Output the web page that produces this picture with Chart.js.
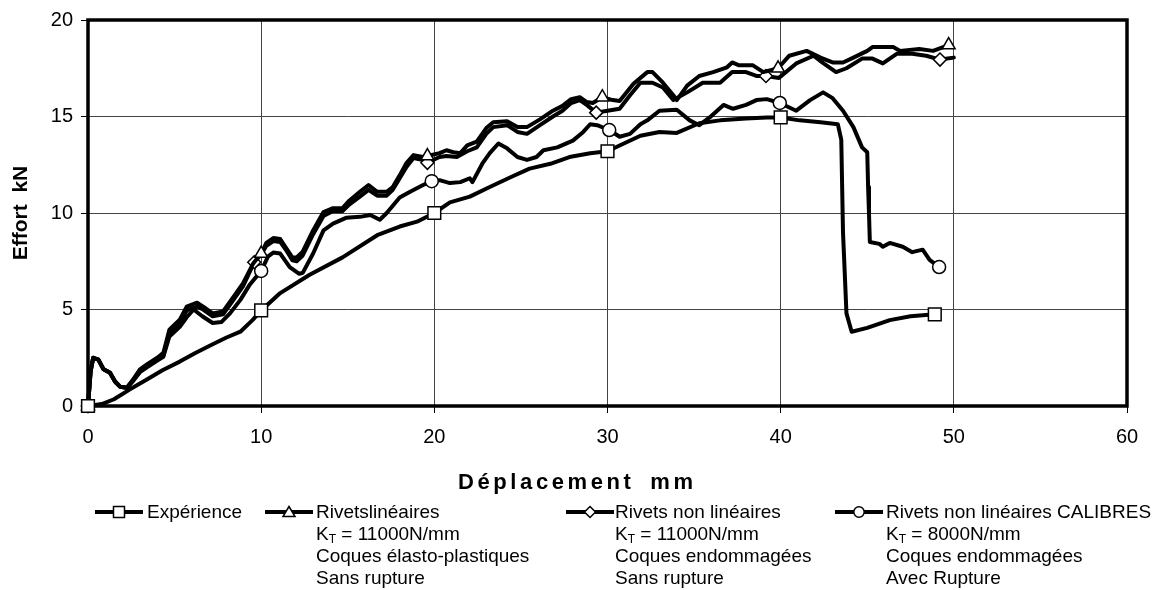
<!DOCTYPE html>
<html lang="fr">
<head>
<meta charset="UTF-8">
<title>Effort - Déplacement</title>
<script src="https://cdn.jsdelivr.net/npm/chart.js"></script>
<style>
  body { margin: 0; background: #fff; font-family: Arial, "Liberation Sans", sans-serif; color: #000; }
  #wrap { position: relative; width: 1160px; height: 590px; }
  #chart { position: absolute; left: 0; top: 0; }
  .xtitle { position: absolute; left: 458px; top: 469px; font-weight: bold; font-size: 22px; letter-spacing: 3.6px; word-spacing: 6px; white-space: nowrap; }
  .sym { position: absolute; top: 505px; }
  .txt { position: absolute; top: 501px; font-size: 19px; line-height: 22px; white-space: nowrap; }
  .txt sub { font-size: 12px; vertical-align: -3px; line-height: 0; }
</style>
</head>
<body>
<div id="wrap">
  <canvas id="chart" width="1160" height="590"></canvas>
  <div class="xtitle">Déplacement mm</div>

  <svg class="sym" style="left:95px" width="48" height="14">
    <line x1="0" y1="7" x2="48" y2="7" stroke="#000" stroke-width="4"/>
    <rect x="18.5" y="1.5" width="11" height="11" fill="#fff" stroke="#000" stroke-width="1.5"/>
  </svg>
  <div class="txt" style="left:147px">Expérience</div>

  <svg class="sym" style="left:265px" width="48" height="14">
    <line x1="0" y1="7" x2="48" y2="7" stroke="#000" stroke-width="4"/>
    <polygon points="24,1.5 30,11.5 18,11.5" fill="#fff" stroke="#000" stroke-width="1.5"/>
  </svg>
  <div class="txt" style="left:316px">Rivetslinéaires<br>K<sub>T</sub> = 11000N/mm<br>Coques élasto-plastiques<br>Sans rupture</div>

  <svg class="sym" style="left:566px" width="48" height="14">
    <line x1="0" y1="7" x2="48" y2="7" stroke="#000" stroke-width="4"/>
    <polygon points="24,1.5 29.5,7 24,12.5 18.5,7" fill="#fff" stroke="#000" stroke-width="1.5"/>
  </svg>
  <div class="txt" style="left:615px">Rivets non linéaires<br>K<sub>T</sub> = 11000N/mm<br>Coques endommagées<br>Sans rupture</div>

  <svg class="sym" style="left:835px" width="48" height="14">
    <line x1="0" y1="7" x2="48" y2="7" stroke="#000" stroke-width="4"/>
    <circle cx="24" cy="7" r="5.2" fill="#fff" stroke="#000" stroke-width="1.5"/>
  </svg>
  <div class="txt" style="left:886px">Rivets non linéaires CALIBRES<br>K<sub>T</sub> = 8000N/mm<br>Coques endommagées<br>Avec Rupture</div>
</div>

<script>
// Expérience (carrés)
const expX = [0, 0.8, 1.5, 2.4, 3.4, 4.3, 5.3, 6.2, 7.2, 8.0, 8.8, 9.5, 10, 11.1, 12.8, 14.7, 16.7, 18, 19, 20,
  20.9, 22.05, 23.2, 24.4, 25.5, 26.7, 27.8, 29, 30, 30.7, 31.9, 33, 34, 35.3, 36.5, 38, 39.2, 40, 41.1, 42.3,
  43.3, 43.5, 43.6, 43.8, 44.1, 45, 46.3, 47.5, 48.9];
const expY = [0, 0.1, 0.35, 0.85, 1.37, 1.85, 2.3, 2.75, 3.2, 3.55, 3.85, 4.45, 4.95, 5.85, 6.8, 7.7, 8.85, 9.3, 9.55, 10,
  10.55, 10.85, 11.35, 11.85, 12.3, 12.55, 12.9, 13.1, 13.2, 13.5, 14, 14.2, 14.15, 14.65, 14.8, 14.9, 14.95, 14.95, 14.8, 14.7,
  14.6, 13.8, 9, 4.8, 3.85, 4.05, 4.45, 4.65, 4.75];
const expMarks = [0, 10, 20, 30, 40, 48.9];

// Rivets linéaires (triangles)
const linX = [0, 0.15, 0.3, 0.6, 0.9, 1.27, 1.56, 1.85, 2.25, 2.6, 3.0, 3.4, 4.0, 4.35, 4.7, 5.3, 5.7, 6.3, 6.65, 7.2,
  7.8, 8.4, 8.95, 9.55, 10, 10.3, 10.7, 11.1, 11.5, 11.8, 12.05, 12.4, 13, 13.6, 14.15, 14.7, 15.1, 15.7, 16.2, 16.7,
  17.25, 17.6, 18, 18.4, 18.8, 19.35, 19.6, 20.3, 20.7, 21.1, 21.5, 21.9, 22.45, 23, 23.4, 24.2, 24.8, 25.35, 26.1, 26.85,
  27.4, 27.9, 28.4, 28.8, 29.15, 29.7, 30.3, 30.7, 31.5, 32.3, 32.6, 33.2, 33.8, 34, 34.6, 35.3, 36.1, 36.9, 37.2, 37.6,
  38.4, 39, 39.85, 40.5, 41.5, 42.3, 43, 43.6, 44.2, 45, 45.3, 46.5, 46.9, 48, 48.8, 49.7];
const linY = [0, 1.8, 2.5, 2.4, 1.9, 1.72, 1.27, 1.0, 0.95, 1.37, 1.9, 2.15, 2.5, 2.75, 3.95, 4.47, 5.15, 5.35, 5.15, 4.8,
  4.9, 5.65, 6.35, 7.4, 7.9, 8.45, 8.7, 8.65, 8.1, 7.7, 7.7, 8.0, 9.1, 10.05, 10.25, 10.25, 10.65, 11.1, 11.45, 11.1,
  11.1, 11.35, 11.95, 12.6, 13.0, 12.9, 12.95, 13.1, 13.25, 13.15, 13.1, 13.5, 13.7, 14.4, 14.7, 14.75, 14.45, 14.45, 14.85, 15.3,
  15.55, 15.9, 16.0, 15.75, 15.7, 16.0, 15.85, 15.8, 16.7, 17.3, 17.3, 16.75, 16.1, 15.85, 16.6, 17.1, 17.3, 17.55, 17.8, 17.65,
  17.65, 17.3, 17.5, 18.15, 18.4, 18.05, 17.8, 17.8, 18.05, 18.4, 18.6, 18.6, 18.4, 18.5, 18.4, 18.7];
const linMarks = [0, 10, 19.6, 29.7, 39.85, 49.7];

// Rivets non linéaires (losanges)
const nlX = [0, 0.15, 0.3, 0.6, 0.9, 1.27, 1.56, 1.85, 2.25, 2.6, 3.0, 3.4, 4.0, 4.35, 4.7, 5.3, 5.7, 6.3, 6.65, 7.2,
  7.8, 8.4, 8.95, 9.6, 10, 10.3, 10.7, 11.1, 11.5, 11.8, 12.05, 12.4, 13, 13.6, 14.15, 14.7, 15.1, 15.7, 16.2, 16.7,
  17.25, 17.6, 18, 18.4, 18.8, 19.35, 19.6, 20.3, 20.7, 21.3, 21.9, 22.45, 23, 23.4, 24.2, 24.8, 25.35, 26.1, 26.85, 27.4,
  27.9, 28.4, 28.8, 29.35, 30, 30.7, 31.3, 31.9, 32.6, 33.2, 33.8, 34.6, 35.5, 36.5, 37.2, 38, 38.6, 39.15, 39.9, 40.9,
  41.9, 42.4, 43.2, 43.8, 44.7, 45.3, 45.9, 46.7, 47.6, 48.4, 49.2, 50];
const nlY = [0, 1.8, 2.5, 2.4, 1.9, 1.72, 1.27, 1.0, 0.95, 1.3, 1.8, 2.05, 2.4, 2.6, 3.8, 4.3, 4.95, 5.15, 5.0, 4.65,
  4.75, 5.5, 6.2, 7.45, 7.85, 8.3, 8.55, 8.5, 8.0, 7.55, 7.5, 7.8, 8.9, 9.85, 10.1, 10.1, 10.45, 10.85, 11.2, 10.9,
  10.9, 11.2, 11.8, 12.4, 12.85, 12.75, 12.6, 12.9, 12.95, 12.9, 13.2, 13.4, 14.1, 14.45, 14.55, 14.2, 14.1, 14.55, 15.0, 15.3,
  15.7, 15.85, 15.6, 15.2, 15.3, 15.4, 16.1, 16.75, 16.75, 16.5, 15.85, 16.25, 16.75, 16.75, 17.3, 17.3, 17.1, 17.1, 17.0, 17.75,
  18.15, 17.8, 17.3, 17.5, 18.0, 18.0, 17.75, 18.25, 18.25, 18.15, 17.95, 18.05];
const nlMarks = [0, 9.6, 19.6, 29.35, 39.15, 49.2];

// Rivets non linéaires CALIBRES (cercles)
const calX = [0, 0.15, 0.3, 0.6, 0.9, 1.27, 1.56, 1.85, 2.25, 2.6, 3.0, 3.4, 4.0, 4.35, 4.7, 5.3, 5.7, 6.1, 6.6, 7.2,
  7.7, 8.2, 8.8, 9.35, 10, 10.4, 10.7, 11.1, 11.65, 12.2, 12.4, 13, 13.6, 14.15, 14.9, 15.7, 16.3, 16.85, 17.25, 18,
  18.6, 19.35, 19.85, 20.3, 20.9, 21.5, 22.05, 22.2, 22.8, 23.2, 23.7, 24.2, 24.8, 25.35, 25.9, 26.3, 27.1, 28, 28.6, 29,
  29.4, 30.1, 30.7, 31.3, 31.9, 32.3, 33, 34, 34.75, 35.3, 35.9, 36.7, 37.25, 38, 38.6, 39.2, 39.95, 40.9, 41.7, 42.45,
  43, 43.6, 44.2, 44.7, 45, 45.05, 45.1, 45.15, 45.7, 45.9, 46.3, 47.05, 47.6, 48.2, 48.6, 49.15];
const calY = [0, 1.8, 2.5, 2.4, 1.9, 1.72, 1.27, 1.0, 0.95, 1.3, 1.75, 2.0, 2.35, 2.55, 3.6, 4.1, 4.6, 5.0, 4.65, 4.3,
  4.35, 4.8, 5.5, 6.3, 7.0, 7.75, 7.95, 7.9, 7.2, 6.85, 6.9, 7.9, 9.1, 9.45, 9.75, 9.8, 9.9, 9.65, 10.0, 10.8,
  11.1, 11.45, 11.65, 11.7, 11.55, 11.6, 11.8, 11.6, 12.6, 13.1, 13.6, 13.35, 12.9, 12.75, 12.9, 13.25, 13.4, 13.75, 14.2, 14.6,
  14.55, 14.3, 13.95, 14.1, 14.6, 14.8, 15.3, 15.35, 14.8, 14.55, 14.95, 15.6, 15.4, 15.6, 15.85, 15.9, 15.7, 15.3, 15.85, 16.25,
  15.95, 15.3, 14.45, 13.4, 13.15, 11.35, 10.0, 8.5, 8.4, 8.25, 8.45, 8.25, 7.97, 8.1, 7.57, 7.2];
const calMarks = [0, 10, 19.85, 30.1, 39.95, 49.15];

const xTicks = [0, 10, 20, 30, 40, 50, 60];
const yTicks = [0, 5, 10, 15, 20];

const pts = (xs, ys) => xs.map((x, i) => ({ x: x, y: ys[i] }));

function series(label, xs, ys, marks, style, r) {
  return {
    label: label,
    data: pts(xs, ys),
    borderColor: '#000',
    borderWidth: 4,
    borderJoinStyle: 'round',
    borderCapStyle: 'round',
    tension: 0,
    pointStyle: style,
    pointRadius: ctx => marks.includes(ctx.raw.x) ? r : 0,
    pointBackgroundColor: '#fff',
    pointBorderColor: '#000',
    pointBorderWidth: 1.5,
    clip: false
  };
}

// thick frame round the plot area
const frame = {
  id: 'frame',
  beforeDatasetsDraw(chart) {
    const { ctx, chartArea: a } = chart;
    ctx.save();
    ctx.lineWidth = 3.5;
    ctx.strokeStyle = '#000';
    ctx.strokeRect(a.left, a.top, a.right - a.left, a.bottom - a.top);
    ctx.restore();
  }
};

new Chart(document.getElementById('chart'), {
  type: 'line',
  data: {
    datasets: [
      series('Expérience', expX, expY, expMarks, 'rect', 9),
      series('Rivets linéaires', linX, linY, linMarks, 'triangle', 7.5),
      series('Rivets non linéaires', nlX, nlY, nlMarks, 'rectRot', 6.5),
      series('Rivets non linéaires CALIBRES', calX, calY, calMarks, 'circle', 6.5)
    ]
  },
  options: {
    responsive: false,
    animation: false,
    events: [],
    layout: { padding: { left: 0, top: 19, right: 33, bottom: 0 } },
    plugins: { legend: { display: false }, tooltip: { enabled: false } },
    scales: {
      x: {
        type: 'linear',
        min: 0, max: 60,
        afterBuildTicks: s => { s.ticks = xTicks.map(v => ({ value: v })); },
        afterFit: s => { s.height = 184; },
        grid: { color: '#444', lineWidth: 1, tickLength: 7, tickColor: '#000' },
        border: { display: false },
        ticks: { color: '#000', padding: 12, font: { family: 'Arial, "Liberation Sans"', size: 20 } }
      },
      y: {
        min: 0, max: 20,
        afterBuildTicks: s => { s.ticks = yTicks.map(v => ({ value: v })); },
        afterFit: s => { s.width = 88; },
        grid: { color: '#444', lineWidth: 1, tickLength: 7, tickColor: '#000' },
        border: { display: false },
        ticks: { color: '#000', padding: 8, font: { family: 'Arial, "Liberation Sans"', size: 20 } },
        title: {
          display: true,
          text: 'Effort  kN',
          color: '#000',
          padding: { top: 9, bottom: 0 },
          font: { family: 'Arial, "Liberation Sans"', size: 21, weight: 'bold' }
        }
      }
    }
  },
  plugins: [frame]
});
</script>
</body>
</html>
